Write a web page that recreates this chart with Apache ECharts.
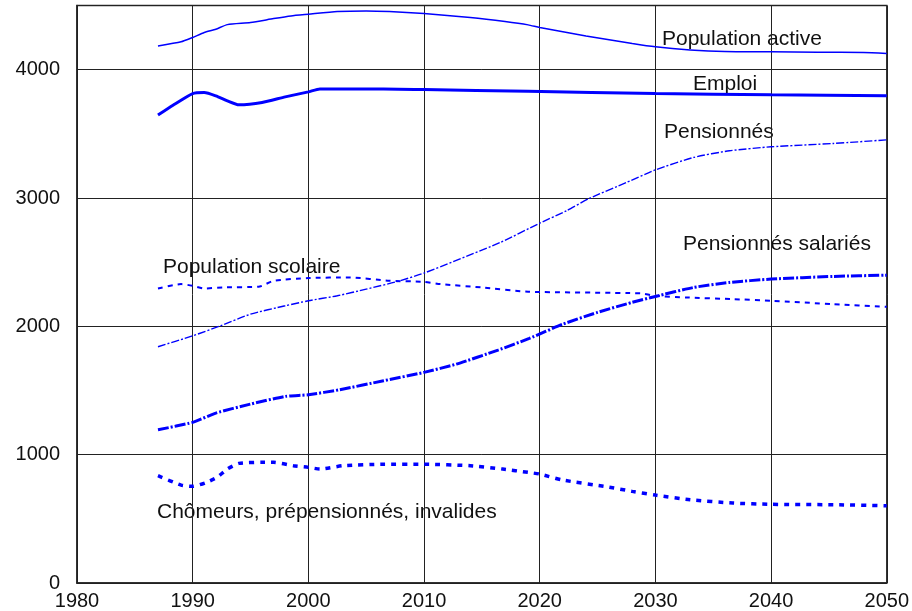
<!DOCTYPE html>
<html><head><meta charset="utf-8">
<script src="https://cdn.jsdelivr.net/npm/echarts@6/dist/echarts.min.js"></script>
<style>html,body{margin:0;padding:0;background:#fff}#c{width:912px;height:611px}</style>
</head><body><div id="c"></div>
<script>
const xTicks = [1980, 1990, 2000, 2010, 2020, 2030, 2040, 2050];
const yTicks = [0, 1000, 2000, 3000, 4000];

const popActiveYears = [1987, 1989, 1990, 1991, 1992, 1993, 1995, 1997, 1998.5, 2000, 2002.5, 2005, 2007, 2010, 2014, 2017, 2019, 2020, 2024, 2028, 2030, 2033, 2036, 2040, 2044, 2048, 2050];
const popActive =      [4185, 4217, 4251, 4289, 4315, 4351, 4367, 4398, 4419, 4432, 4453, 4458, 4453, 4437, 4406, 4375, 4349, 4328, 4263, 4204, 4178, 4154, 4141, 4139, 4136, 4134, 4126];

const emploiYears = [1987, 1988.3, 1990, 1991, 1992, 1993, 1994, 1996, 1998, 2000, 2001, 2006.5, 2010, 2019, 2030, 2040, 2050];
const emploi =      [3646, 3723, 3814, 3822, 3796, 3757, 3726, 3744, 3788, 3827, 3850, 3850, 3845, 3832, 3814, 3804, 3796];

const pensYears = [1987, 1990, 1992.4, 1995, 1998, 2000, 2002.5, 2005, 2007.6, 2010, 2016.6, 2020, 2022.3, 2024.3, 2027.5, 2030, 2033.3, 2036.4, 2040, 2045.4, 2050];
const pens =      [1841, 1926, 2004, 2095, 2160, 2199, 2238, 2290, 2347, 2415, 2654, 2804, 2900, 2997, 3121, 3219, 3316, 3368, 3399, 3425, 3453];

const scolYears = [1987, 1989, 1990, 1991, 1992.6, 1995.8, 1997, 2000, 2003.6, 2007, 2010, 2011.4, 2015, 2019, 2028.7, 2030, 2032.7, 2036.7, 2040, 2045.4, 2050];
const scol =      [2295, 2329, 2316, 2295, 2303, 2311, 2355, 2376, 2381, 2355, 2347, 2329, 2303, 2270, 2257, 2238, 2225, 2212, 2199, 2173, 2152];

const salYears = [1987, 1990, 1992, 1995, 1998, 2000, 2002.7, 2006.5, 2010, 2012.8, 2016.4, 2019.1, 2022, 2025, 2028, 2030, 2033.3, 2036.4, 2040, 2045.4, 2050];
const sal =      [1194, 1252, 1324, 1394, 1454, 1467, 1506, 1576, 1641, 1706, 1815, 1906, 2017, 2109, 2187, 2233, 2303, 2342, 2368, 2389, 2399];

const chomYears = [1987, 1989, 1990, 1991.2, 1992.1, 1993, 1994, 1996, 1997, 1998.7, 2000, 2001, 2003, 2006.5, 2010, 2014, 2016.8, 2019, 2020, 2022, 2025.8, 2028, 2030, 2033, 2036.7, 2040, 2045.4, 2050];
const chom =      [836, 763, 753, 784, 823, 888, 932, 940, 940, 914, 901, 888, 914, 925, 925, 914, 888, 862, 849, 802, 750, 714, 685, 649, 623, 613, 610, 602];

const seriesNames = ['Population active', 'Emploi', 'Pensionnés', 'Pensionnés salariés', 'Population scolaire', 'Chômeurs, prépensionnés, invalides'];

function pairs(xs, ys) { return xs.map((x, i) => [x, ys[i]]); }

const chart = echarts.init(document.getElementById('c'), null, { renderer: 'canvas' });
const FONT = '"Liberation Sans", Arial, sans-serif';
const blue = '#0000ff';
function mk(name, xs, ys, width, type) {
  return {
    name, type: 'line', data: pairs(xs, ys), showSymbol: false, symbol: 'none',
    smooth: 0.2,
    lineStyle: { color: blue, width: width, type: type },
    itemStyle: { color: blue }, silent: true, animation: false
  };
}
function lbl(text, x, y) {
  return { type: 'text', x: x, y: y, style: { text: text, font: '21px ' + FONT, fill: '#111', textVerticalAlign: 'middle', verticalAlign: 'middle' } };
}
const option = {
  animation: false,
  grid: { left: 77, right: 25, top: 5.5, bottom: 27, show: true, borderColor: '#333', borderWidth: 1.5, backgroundColor: '#fff' },
  xAxis: {
    type: 'value', min: 1980, max: 2050, interval: 10,
    axisLine: { show: true, lineStyle: { color: '#222', width: 1.5 } },
    axisTick: { show: false },
    splitLine: { show: true, lineStyle: { color: '#222', width: 1 } },
    axisLabel: { color: '#111', fontFamily: FONT, fontSize: 20, margin: 8, formatter: v => String(v) }
  },
  yAxis: {
    type: 'value', min: 0, max: 4500, interval: 1000,
    axisLine: { show: true, lineStyle: { color: '#222', width: 1.5 } },
    axisTick: { show: false },
    splitLine: { show: true, lineStyle: { color: '#222', width: 1 } },
    axisLabel: { color: '#111', fontFamily: FONT, fontSize: 20, margin: 17, padding: [0, 0, 12, 0],
      formatter: v => (yTicks.indexOf(v) >= 0 ? String(v) : '') }
  },
  series: [
    mk(seriesNames[0], popActiveYears, popActive, 1.5, 'solid'),
    mk(seriesNames[1], emploiYears, emploi, 3, 'solid'),
    mk(seriesNames[2], pensYears, pens, 1.4, [8, 2, 2, 2]),
    mk(seriesNames[3], salYears, sal, 3, [11, 2, 2, 2]),
    mk(seriesNames[4], scolYears, scol, 2, [5, 5]),
    mk(seriesNames[5], chomYears, chom, 3.5, [5, 6])
  ],
  graphic: [
    lbl(seriesNames[0], 662, 39),
    lbl(seriesNames[1], 693, 84),
    lbl(seriesNames[2], 664, 132),
    lbl(seriesNames[3], 683, 244),
    lbl(seriesNames[4], 163, 267),
    lbl(seriesNames[5], 157, 512)
  ]
};
chart.setOption(option);
</script>
</body></html>
